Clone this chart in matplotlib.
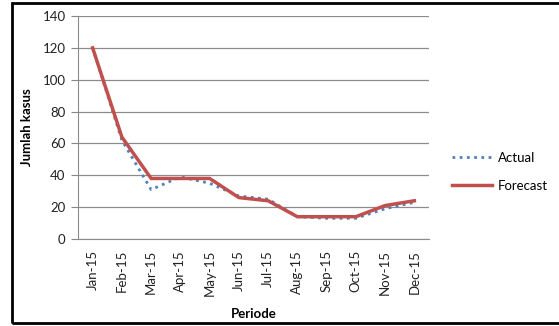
import matplotlib
matplotlib.use("Agg")
import matplotlib.pyplot as plt
from matplotlib.patches import Rectangle

months = ["Jan-15", "Feb-15", "Mar-15", "Apr-15", "May-15", "Jun-15",
          "Jul-15", "Aug-15", "Sep-15", "Oct-15", "Nov-15", "Dec-15"]
actual = [120, 62, 31, 39, 35, 27, 25, 14, 13, 13, 19, 23]
forecast = [120, 64, 38, 38, 38, 26, 24, 14, 14, 14, 21, 24]
yticks = [0, 20, 40, 60, 80, 100, 120, 140]

plt.rcParams['font.family'] = ['Lato', 'DejaVu Sans']

W, H = 559, 326
fig = plt.figure(figsize=(W/100, H/100), dpi=100)
ax = fig.add_axes([78/W, 1-239/H, (429-78)/W, (239-16)/H])

x = list(range(len(months)))
ax.plot(x, actual, color='#4F81BD', linestyle=(0, (1, 1.6)), linewidth=2.0, label='Actual', zorder=3)
ax.plot(x, forecast, color='#C0504D', linewidth=2.5, label='Forecast', zorder=4)

fs = 9.5
ax.set_xlim(-0.5, len(months)-0.5)
ax.set_ylim(0, 140)
ax.set_yticks(yticks)
ax.set_xticks(x)
ax.set_xticklabels(months, rotation=90, fontsize=fs, color='#222222')
ax.tick_params(axis='y', labelsize=fs, length=5, color='#888888', pad=4, labelcolor='#222222')
ax.tick_params(axis='x', length=0, pad=8)
ax.grid(axis='y', color='#8C8C8C', linewidth=0.9)
ax.set_axisbelow(True)
for s in ['top', 'right']:
    ax.spines[s].set_visible(False)
ax.spines['left'].set_color('#8C8C8C')
ax.spines['bottom'].set_color('#8C8C8C')

ax.set_ylabel('Jumlah kasus', fontsize=fs, fontweight='bold')
ax.yaxis.set_label_coords((27-78)/351, 0.5)
ax.set_xlabel('Periode', fontsize=fs, fontweight='bold')
ax.xaxis.set_label_coords(0.5, -(314-239)/223)
ax.xaxis.label.set_va('center')
ax.yaxis.label.set_va('center')

leg = fig.legend(loc='upper left', bbox_to_anchor=(452/W, 1-152/H), frameon=False,
                 fontsize=fs, handlelength=3.0, labelspacing=1.2, handletextpad=0.5,
                 borderpad=0, borderaxespad=0)

fig.patches.append(Rectangle((12/W, 3/H), 1.5, 320/H, transform=fig.transFigure,
                             fill=False, edgecolor='black', linewidth=2, clip_on=False))

fig.savefig('out.png', dpi=100, facecolor='white')
